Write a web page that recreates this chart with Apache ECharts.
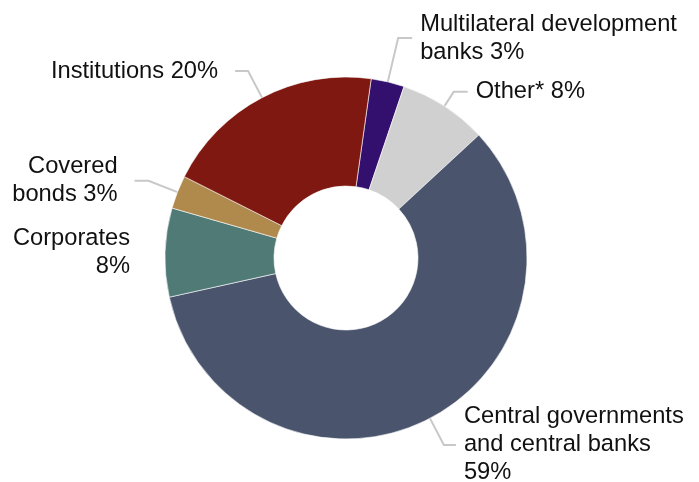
<!DOCTYPE html>
<html>
<head>
<meta charset="utf-8">
<script src="https://cdn.jsdelivr.net/npm/echarts@6/dist/echarts.min.js"></script>
<style>
  html, body { margin: 0; padding: 0; background: #fff; }
  #chart { width: 699px; height: 482px; }
</style>
</head>
<body>
<div id="chart"></div>
<script>
// Exposure breakdown by counterparty type (share of total, %)
const categories = [
  'Multilateral development\nbanks',
  'Other*',
  'Central governments\nand central banks',
  'Corporates',
  'Covered\nbonds',
  'Institutions'
];
const shares = [3, 8, 59, 8, 3, 20];
const labelTexts = [
  'Multilateral development\nbanks 3%',
  'Other* 8%',
  'Central governments\nand central banks\n59%',
  'Corporates\n8%',
  'Covered\nbonds 3%',
  'Institutions 20%'
];
const colors = ['#33106e', '#d0d0d0', '#4a556d', '#507a76', '#b08a4c', '#7f1810'];

// Per-slice leader line lengths [radial, horizontal] and gap to the text
const leaderLengths = [[45, 14], [17, 14], [30, 12], [14, 10], [31, 14], [30, 13]];
const labelGaps = [8, 8, 8, 11, 17, 17];

const data = categories.map((name, i) => ({
  name: name,
  value: shares[i],
  itemStyle: { color: colors[i] },
  label: { formatter: labelTexts[i], distanceToLabelLine: labelGaps[i] },
  labelLine: {
    show: i !== 3,
    length: leaderLengths[i][0],
    length2: leaderLengths[i][1]
  }
}));

const chart = echarts.init(document.getElementById('chart'), null, { renderer: 'canvas' });
chart.setOption({
  backgroundColor: '#ffffff',
  animation: false,
  series: [{
    type: 'pie',
    center: [346, 258],
    radius: [72, 181],
    startAngle: 82,
    clockwise: true,
    avoidLabelOverlap: false,
    itemStyle: { borderColor: '#ffffff', borderWidth: 0.6 },
    label: {
      show: true,
      position: 'outside',
      fontFamily: '"Liberation Sans", Arial, sans-serif',
      fontSize: 23.7,
      lineHeight: 28,
      color: '#111111'
    },
    labelLine: {
      lineStyle: { color: '#c8c8c8', width: 2 },
      smooth: false
    },
    emphasis: { disabled: true },
    data: data
  }]
});
</script>
</body>
</html>
